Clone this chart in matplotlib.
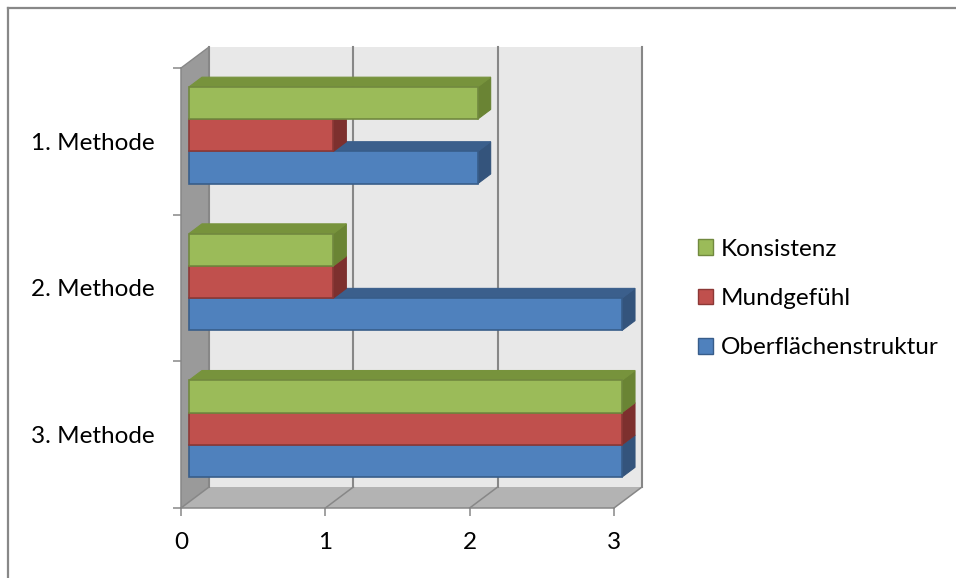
import matplotlib
matplotlib.use("Agg")
import matplotlib.pyplot as plt
from matplotlib.patches import Polygon, Patch
from matplotlib.lines import Line2D

plt.rcParams['font.family'] = ['Lato', 'DejaVu Sans']

# --- data ---
categories = ["1. Methode", "2. Methode", "3. Methode"]
series_names = ["Oberflächenstruktur", "Mundgefühl", "Konsistenz"]
oberflaechenstruktur = [2, 3, 3]
mundgefuehl = [1, 1, 3]
konsistenz = [2, 1, 3]
x_ticks = [0, 1, 2, 3]

series_values = [oberflaechenstruktur, mundgefuehl, konsistenz]

# face colours: front, top, side, edge
palette = [
    ("#4f81bd", "#3b5f8c", "#34547c", "#385d8a"),
    ("#c0504d", "#93403d", "#7d302e", "#8c3836"),
    ("#9bbb59", "#77933c", "#6a8434", "#71893f"),
]

W, H = 956, 578
fig = plt.figure(figsize=(W / 100, H / 100), dpi=100)

# axes spans the front plane of the 3-D box
ax = fig.add_axes([181 / W, 1 - 508 / H, (614 - 181) / W, (508 - 68) / H])
n_cat = len(categories)
vmax = x_ticks[-1]
ax.set_xlim(0, vmax)
ax.set_ylim(0, n_cat)
ax.patch.set_visible(False)

# oblique depth vector (data units per full depth)
DX = 28 / ((614 - 181) / vmax)
DY = 21 / ((508 - 68) / n_cat)


def proj(v, c, d):
    return (v + d * DX, c + d * DY)


def face(pts, fc, ec, z, lw=0.8):
    ax.add_patch(Polygon(pts, closed=True, facecolor=fc, edgecolor=ec,
                         linewidth=lw, zorder=z, clip_on=False,
                         joinstyle='miter'))


grid_c = "#878787"
wall_c = "#e8e8e8"

# back wall
face([proj(0, 0, 1), proj(vmax, 0, 1), proj(vmax, n_cat, 1), proj(0, n_cat, 1)],
     wall_c, "none", 0.5, lw=0)
# left side wall
face([proj(0, 0, 0), proj(0, 0, 1), proj(0, n_cat, 1), proj(0, n_cat, 0)],
     "#9a9a9a", "none", 0.6, lw=0)
# floor
face([proj(0, 0, 0), proj(vmax, 0, 0), proj(vmax, 0, 1), proj(0, 0, 1)],
     "#b3b3b3", "none", 0.6, lw=0)

# gridlines on back wall and floor
for v in x_ticks:
    x0, y0 = proj(v, 0, 1)
    x1, y1 = proj(v, n_cat, 1)
    ax.add_line(Line2D([x0, x1], [y0, y1], color=grid_c, lw=1.5,
                       zorder=0.7, clip_on=False))
    xa, ya = proj(v, 0, 0)
    ax.add_line(Line2D([xa, x0], [ya, y0], color=grid_c, lw=1.1,
                       zorder=0.7, clip_on=False))
# left wall top edge
xa, ya = proj(0, n_cat, 0)
xb, yb = proj(0, n_cat, 1)
ax.add_line(Line2D([xa, xb], [ya, yb], color=grid_c, lw=1.0,
                   zorder=0.7, clip_on=False))

# bars
group = 0.66
bw = group / len(series_values)
d0, d1 = 0.286, 0.75
z = 1.0
for ci in range(n_cat - 1, -1, -1):
    band = n_cat - 1 - ci
    base = band + 0.5 - group / 2
    for si, vals in enumerate(series_values):
        v = vals[ci]
        fc, tc, sc, ec = palette[si]
        c0 = base + si * bw
        c1 = c0 + bw
        # right side face
        face([proj(v, c0, d0), proj(v, c0, d1), proj(v, c1, d1), proj(v, c1, d0)],
             sc, sc, z)
        # top face
        face([proj(0, c1, d0), proj(v, c1, d0), proj(v, c1, d1), proj(0, c1, d1)],
             tc, tc, z + 0.01)
        # front face
        face([proj(0, c0, d0), proj(v, c0, d0), proj(v, c1, d0), proj(0, c1, d0)],
             fc, ec, z + 0.02, lw=1.2)
        z += 0.1

# axes, ticks, labels
for side in ("top", "right"):
    ax.spines[side].set_visible(False)
for side in ("left", "bottom"):
    ax.spines[side].set_color(grid_c)
    ax.spines[side].set_linewidth(1.1)
    ax.spines[side].set_zorder(0.9)

fs = 17.5
ax.set_xticks(x_ticks, labels=[str(t) for t in x_ticks])
ax.tick_params(axis="x", direction="out", length=5.8, width=1.1,
               color=grid_c, pad=11.5, labelsize=fs, labelcolor="black")

centers = [n_cat - 0.5 - i for i in range(n_cat)]
ax.set_yticks(centers, labels=categories)
ax.set_yticks(range(n_cat + 1), minor=True)
ax.tick_params(axis="y", which="major", length=0, pad=19, labelsize=fs,
               labelcolor="black")
ax.tick_params(axis="y", which="minor", direction="out", length=5.8,
               width=1.1, color=grid_c)

# legend (top entry first)
handles = [Patch(facecolor=palette[i][0], edgecolor=palette[i][3], linewidth=1.0)
           for i in range(len(series_names) - 1, -1, -1)]
labels = series_names[::-1]
fpx = fs * 100 / 72
fig.legend(handles, labels, loc="center left",
           bbox_to_anchor=(698 / W, 1 - 298.5 / H), frameon=False,
           fontsize=fs, borderpad=0, borderaxespad=0,
           handlelength=15 / fpx, handleheight=15 / fpx,
           handletextpad=8 / fpx, labelspacing=1.17)

# chart frame
fig.add_artist(Line2D([7.5 / W, 7.5 / W], [0, 1 - 7.5 / H], color="#888888",
                      lw=1.6, transform=fig.transFigure))
fig.add_artist(Line2D([7.5 / W, 1], [1 - 7.5 / H, 1 - 7.5 / H], color="#888888",
                      lw=1.6, transform=fig.transFigure))

fig.savefig("out.png", dpi=100, facecolor="white")
